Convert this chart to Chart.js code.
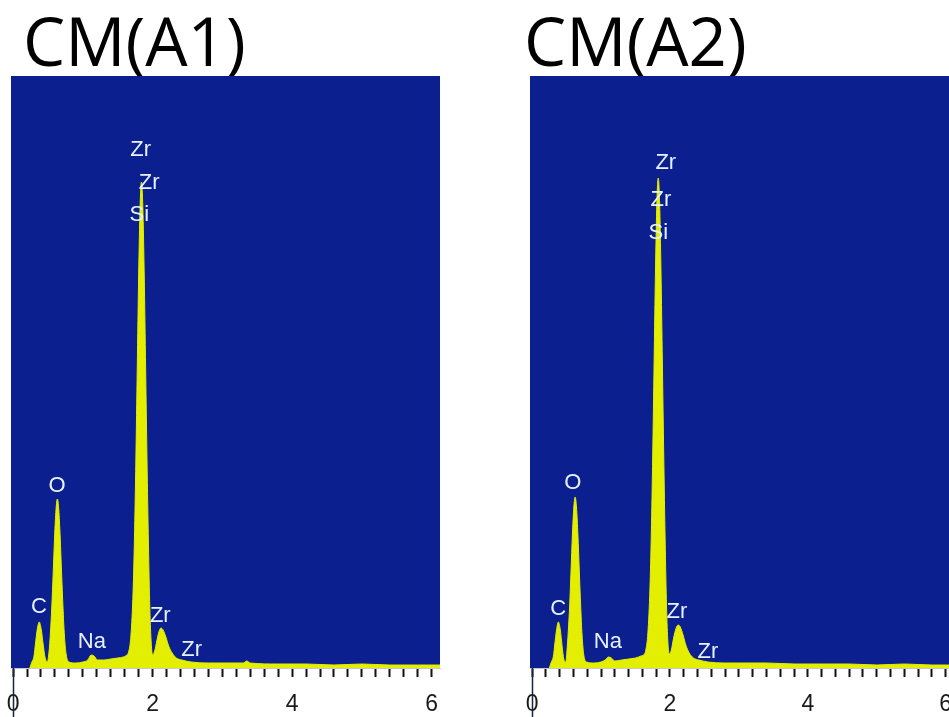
<!DOCTYPE html>
<html>
<head>
<meta charset="utf-8">
<script src="https://cdn.jsdelivr.net/npm/chart.js@4.4.0/dist/chart.umd.min.js"></script>
<style>
    html, body { margin: 0; padding: 0; background: #fff; overflow: hidden; width: 949px; height: 717px; }
    .title { position: absolute; font-family: 'Open Sans', sans-serif; font-size: 67px; line-height: 67px; color: #000; white-space: nowrap; }
    canvas { position: absolute; top: 0; }
</style>
</head>
<body>
<div class="title" style="left:23px; top:7px;">CM(A1)</div>
<div class="title" style="left:524px; top:7px;">CM(A2)</div>
<canvas id="chartA1" width="470" height="717" style="left:0px;"></canvas>
<canvas id="chartA2" width="465" height="717" style="left:519px;"></canvas>
<script>
// energia (keV) dan cacah untuk spektrum CM(A1)
const energyA1 = [0.24, 0.27, 0.30, 0.32, 0.345, 0.375, 0.405, 0.43, 0.46, 0.49,
    0.515, 0.535, 0.555, 0.575, 0.595, 0.615, 0.635, 0.655, 0.675, 0.695,
    0.715, 0.735, 0.76, 0.80, 0.90, 1.00, 1.07, 1.12, 1.16, 1.21,
    1.30, 1.40, 1.50, 1.58, 1.63, 1.66, 1.69, 1.72, 1.74, 1.76,
    1.78, 1.80, 1.82, 1.84, 1.86, 1.88, 1.90, 1.92, 1.94, 1.96,
    1.98, 2.00, 2.03, 2.06, 2.09, 2.12, 2.15, 2.19, 2.23, 2.28,
    2.34, 2.42, 2.55, 2.80, 3.00, 3.30, 3.35, 3.40, 3.80, 4.20,
    4.60, 5.00, 5.40, 5.80, 6.12];
const countsA1 = [0, 6, 12, 24, 38, 46, 38, 24, 10, 6,
    16, 35, 61, 95, 131, 158, 169, 158, 131, 95,
    61, 33, 14, 6, 5, 6, 8, 13, 12, 8,
    8, 9, 10, 11, 13, 17, 33, 76, 130, 207,
    300, 392, 460, 486, 460, 392, 300, 207, 125, 60,
    25, 13, 17, 27, 36, 40, 38, 31, 22, 15,
    10, 8, 6, 5, 5, 5, 7, 5, 4, 4,
    3, 4, 3, 3, 3];

// energia (keV) dan cacah untuk spektrum CM(A2)
const energyA2 = [0.25, 0.28, 0.31, 0.33, 0.355, 0.38, 0.41, 0.435, 0.46, 0.49,
    0.505, 0.525, 0.545, 0.565, 0.585, 0.605, 0.625, 0.645, 0.665, 0.685,
    0.705, 0.725, 0.75, 0.79, 0.90, 1.00, 1.06, 1.11, 1.15, 1.20,
    1.30, 1.40, 1.50, 1.58, 1.63, 1.65, 1.68, 1.71, 1.73, 1.75,
    1.77, 1.79, 1.81, 1.83, 1.85, 1.87, 1.89, 1.91, 1.93, 1.95,
    1.97, 1.99, 2.02, 2.05, 2.09, 2.12, 2.15, 2.19, 2.23, 2.28,
    2.34, 2.42, 2.55, 2.80, 3.00, 3.40, 3.80, 4.20, 4.60, 5.00,
    5.40, 5.80, 6.12];
const countsA2 = [0, 6, 12, 24, 38, 46, 38, 22, 9, 6,
    16, 36, 62, 97, 133, 160, 171, 160, 133, 97,
    62, 33, 13, 6, 5, 6, 8, 11, 10, 7,
    8, 9, 10, 12, 14, 18, 35, 80, 135, 212,
    305, 396, 465, 490, 465, 396, 305, 212, 128, 62,
    26, 14, 18, 29, 40, 43, 41, 33, 23, 15,
    10, 8, 6, 5, 5, 5, 4, 4, 4, 3,
    4, 3, 3];

// label unsur
const peakNames = ['Zr', 'Zr', 'Si', 'O', 'C', 'Na', 'Zr', 'Zr'];
const labelEnergyA1 = [1.83, 1.95, 1.81, 0.63, 0.37, 1.13, 2.11, 2.56];
const labelCountA1 = [518, 485, 453, 182, 61, 26, 52, 18];
const labelEnergyA2 = [1.94, 1.87, 1.83, 0.59, 0.38, 1.10, 2.10, 2.55];
const labelCountA2 = [505, 468, 435, 185, 59, 26, 56, 16];

// label sumbu x
const tickValues = [0, 2, 4, 6];

const BLUE = '#0b1f8e';
const YELLOW = '#e4ee00';
const labelFont = "'Liberation Sans', Arial, sans-serif";

const backgroundPlugin = {
    id: 'bgBlue',
    beforeDraw(chart) {
        const a = chart.chartArea;
        const c = chart.ctx;
        c.save();
        c.fillStyle = BLUE;
        c.fillRect(a.left, a.top, a.right - a.left, a.bottom - a.top);
        c.restore();
    }
};

function makeLabelPlugin(energies, counts) {
    return {
        id: 'peakLabels',
        afterDatasetsDraw(chart) {
            const c = chart.ctx;
            const xs = chart.scales.x;
            const ys = chart.scales.y;
            c.save();
            c.fillStyle = '#e6f2ff';
            c.font = '22px ' + labelFont;
            c.textAlign = 'center';
            c.textBaseline = 'middle';
            for (let i = 0; i < peakNames.length; i++) {
                c.fillText(peakNames[i], xs.getPixelForValue(energies[i]), ys.getPixelForValue(counts[i]));
            }
            // garis tegak di posisi 0
            const x0 = Math.round(xs.getPixelForValue(0)) + 0.5;
            c.strokeStyle = '#1a2340';
            c.lineWidth = 1.5;
            c.beginPath();
            c.moveTo(x0, chart.chartArea.bottom);
            c.lineTo(x0, chart.height);
            c.stroke();
            c.restore();
        }
    };
}

function isWhole(v) {
    return Math.abs(v - Math.round(v)) < 1e-6;
}

function buildChart(id, energies, counts, labelE, labelC) {
    const points = energies.map((e, i) => ({ x: e, y: counts[i] }));
    const ctx = document.getElementById(id).getContext('2d');
    return new Chart(ctx, {
        type: 'line',
        data: {
            datasets: [{
                data: points,
                fill: 'origin',
                backgroundColor: YELLOW,
                borderColor: YELLOW,
                borderWidth: 1,
                pointRadius: 0,
                cubicInterpolationMode: 'monotone'
            }]
        },
        options: {
            responsive: false,
            animation: false,
            layout: { padding: { top: 76, left: 11, right: 30, bottom: 0 } },
            plugins: { legend: { display: false }, tooltip: { enabled: false } },
            scales: {
                x: {
                    type: 'linear',
                    min: -0.03,
                    max: 6.12,
                    afterFit(scale) {
                        scale.height = 49;
                        scale.paddingLeft = 0;
                        scale.paddingRight = 0;
                    },
                    border: { display: true, color: '#c8c8c8', width: 1 },
                    grid: {
                        drawOnChartArea: false,
                        tickLength: 9,
                        tickColor: '#111',
                        tickWidth: 2
                    },
                    ticks: {
                        stepSize: 0.2,
                        includeBounds: false,
                        autoSkip: false,
                        maxRotation: 0,
                        padding: 14,
                        color: '#1a1a1a',
                        font: { family: labelFont, size: 23 },
                        callback: (v) => {
                            const r = Math.round(v);
                            return isWhole(v) && tickValues.includes(r) ? String(r) : '';
                        }
                    }
                },
                y: { display: false, min: 0, max: 592 }
            }
        },
        plugins: [backgroundPlugin, makeLabelPlugin(labelE, labelC)]
    });
}

buildChart('chartA1', energyA1, countsA1, labelEnergyA1, labelCountA1);
buildChart('chartA2', energyA2, countsA2, labelEnergyA2, labelCountA2);
</script>
</body>
</html>
